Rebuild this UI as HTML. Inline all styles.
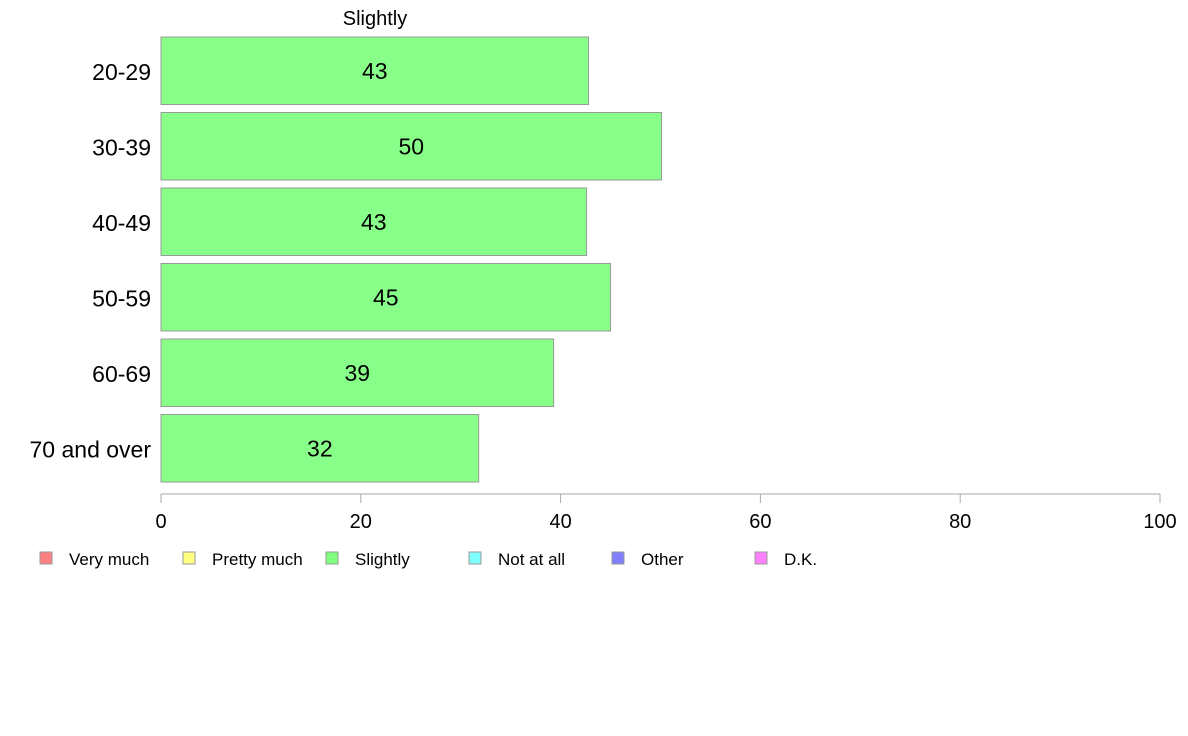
<!DOCTYPE html>
<html><head><meta charset="utf-8"><style>
body{margin:0;background:#fff;}
svg{display:block;font-family:"Liberation Sans",Arial,sans-serif;}
</style></head><body>
<svg id="chart" width="1188" height="736">
<text x="375" y="25" font-size="20" text-anchor="middle">Slightly</text>
<g id="bars"></g>
<g id="axis"></g>
<g id="legend"></g>
</svg>
<script>
const categories=["20-29","30-39","40-49","50-59","60-69","70 and over"];
const values=[42.8,50.1,42.6,45,39.3,31.8];
const labels=["43","50","43","45","39","32"];
const ticks=[0,20,40,60,80,100];
const legendNames=["Very much","Pretty much","Slightly","Not at all","Other","D.K."];
const legendColors=["#ff8080","#ffff80","#80ff80","#80ffff","#8080ff","#ff80ff"];
const NS="http://www.w3.org/2000/svg";
function mk(t,a,p){const e=document.createElementNS(NS,t);for(const k in a)e.setAttribute(k,a[k]);p.appendChild(e);return e;}
const x=v=>161+v*9.99;
const top0=37,bot=482,step=(bot-top0+8)/categories.length,bh=step-8;
const y=i=>top0+i*step;
const gb=document.getElementById('bars');
categories.forEach((c,i)=>{
  const r=mk('rect',{x:x(0),y:y(i),width:x(values[i])-x(0),height:bh,fill:'#88ff88',stroke:'#999','stroke-width':1},gb);
  
  
  const t=mk('text',{x:(x(0)+x(values[i]))/2,y:y(i)+bh/2+8,'font-size':23,'text-anchor':'middle'},gb);
  t.textContent=labels[i];
  
  
  const l=mk('text',{x:151,y:y(i)+bh/2+9,'font-size':23,'text-anchor':'end'},gb);
  l.textContent=c;
  
  
});
const ga=document.getElementById('axis');
const al=mk('line',{x1:x(0),x2:x(100),y1:494,y2:494,stroke:'#aaa'},ga);


ticks.forEach(v=>{
  const tl=mk('line',{x1:x(v),x2:x(v),y1:494,y2:503,stroke:'#aaa'},ga);
  
  
  const t=mk('text',{x:x(v),y:528,'font-size':20,'text-anchor':'middle'},ga);
  t.textContent=v;
  
  
});
const gl=document.getElementById('legend');
legendNames.forEach((n,i)=>{
  const lx=40+i*143;
  const s=mk('rect',{x:lx,y:552,width:12,height:12,fill:legendColors[i],stroke:'#999'},gl);
  
  
  const t=mk('text',{x:lx+29,y:565,'font-size':17},gl);
  t.textContent=n;
  
  
});
</script>
</body></html>
